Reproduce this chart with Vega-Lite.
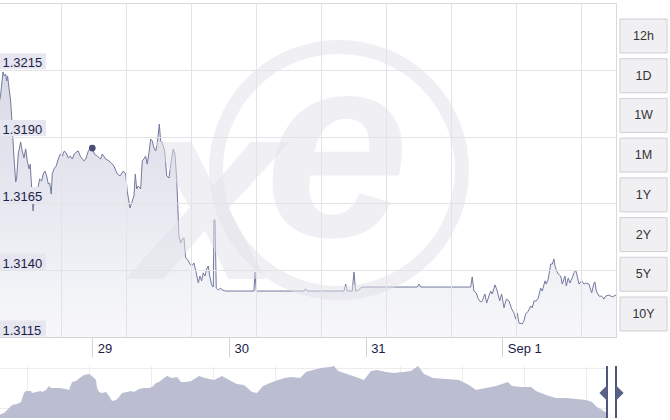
{
 "$schema": "https://vega.github.io/schema/vega-lite/v6.json",
 "padding": {"left": -4, "top": 2, "right": 0, "bottom": 0},
 "background": "white",
 "config": {"font": "Liberation Sans", "view": {"stroke": null}},
 "datasets": {
  "rates": [
   {"time": "2025-08-28T07:37:00", "rate": 1.32022},
   {"time": "2025-08-28T07:55:00", "rate": 1.32059},
   {"time": "2025-08-28T08:19:00", "rate": 1.32142},
   {"time": "2025-08-28T08:32:00", "rate": 1.32127},
   {"time": "2025-08-28T08:47:00", "rate": 1.32134},
   {"time": "2025-08-28T08:58:00", "rate": 1.32108},
   {"time": "2025-08-28T09:08:00", "rate": 1.32127},
   {"time": "2025-08-28T09:22:00", "rate": 1.32082},
   {"time": "2025-08-28T09:40:00", "rate": 1.32033},
   {"time": "2025-08-28T09:57:00", "rate": 1.31932},
   {"time": "2025-08-28T10:15:00", "rate": 1.3182},
   {"time": "2025-08-28T10:33:00", "rate": 1.3173},
   {"time": "2025-08-28T10:43:00", "rate": 1.31745},
   {"time": "2025-08-28T11:00:00", "rate": 1.31835},
   {"time": "2025-08-28T11:25:00", "rate": 1.3188},
   {"time": "2025-08-28T11:42:00", "rate": 1.31846},
   {"time": "2025-08-28T12:00:00", "rate": 1.3182},
   {"time": "2025-08-28T12:18:00", "rate": 1.31854},
   {"time": "2025-08-28T12:35:00", "rate": 1.31809},
   {"time": "2025-08-28T12:53:00", "rate": 1.31779},
   {"time": "2025-08-28T13:06:00", "rate": 1.31797},
   {"time": "2025-08-28T13:21:00", "rate": 1.31708},
   {"time": "2025-08-28T13:35:00", "rate": 1.31622},
   {"time": "2025-08-28T13:49:00", "rate": 1.31659},
   {"time": "2025-08-28T14:03:00", "rate": 1.31685},
   {"time": "2025-08-28T14:20:00", "rate": 1.31659},
   {"time": "2025-08-28T14:31:00", "rate": 1.31715},
   {"time": "2025-08-28T14:45:00", "rate": 1.31741},
   {"time": "2025-08-28T15:07:00", "rate": 1.31734},
   {"time": "2025-08-28T15:23:00", "rate": 1.3176},
   {"time": "2025-08-28T15:41:00", "rate": 1.31771},
   {"time": "2025-08-28T15:59:00", "rate": 1.31753},
   {"time": "2025-08-28T16:16:00", "rate": 1.31723},
   {"time": "2025-08-28T16:31:00", "rate": 1.31726},
   {"time": "2025-08-28T16:48:00", "rate": 1.31685},
   {"time": "2025-08-28T16:58:00", "rate": 1.3176},
   {"time": "2025-08-28T17:16:00", "rate": 1.31779},
   {"time": "2025-08-28T17:40:00", "rate": 1.3179},
   {"time": "2025-08-28T18:01:00", "rate": 1.31816},
   {"time": "2025-08-28T18:23:00", "rate": 1.31835},
   {"time": "2025-08-28T18:44:00", "rate": 1.31827},
   {"time": "2025-08-28T19:05:00", "rate": 1.31846},
   {"time": "2025-08-28T19:26:00", "rate": 1.31839},
   {"time": "2025-08-28T19:47:00", "rate": 1.3182},
   {"time": "2025-08-28T20:08:00", "rate": 1.31827},
   {"time": "2025-08-28T20:29:00", "rate": 1.31816},
   {"time": "2025-08-28T20:50:00", "rate": 1.31835},
   {"time": "2025-08-28T21:11:00", "rate": 1.31842},
   {"time": "2025-08-28T21:32:00", "rate": 1.31846},
   {"time": "2025-08-28T21:53:00", "rate": 1.31827},
   {"time": "2025-08-28T22:14:00", "rate": 1.31816},
   {"time": "2025-08-28T22:35:00", "rate": 1.31809},
   {"time": "2025-08-28T22:56:00", "rate": 1.3182},
   {"time": "2025-08-28T23:18:00", "rate": 1.31846},
   {"time": "2025-08-28T23:39:00", "rate": 1.31857},
   {"time": "2025-08-29T00:00:00", "rate": 1.31857},
   {"time": "2025-08-29T00:21:00", "rate": 1.31835},
   {"time": "2025-08-29T00:52:00", "rate": 1.31827},
   {"time": "2025-08-29T01:28:00", "rate": 1.31816},
   {"time": "2025-08-29T01:45:00", "rate": 1.31835},
   {"time": "2025-08-29T02:21:00", "rate": 1.31816},
   {"time": "2025-08-29T02:56:00", "rate": 1.31809},
   {"time": "2025-08-29T03:20:00", "rate": 1.31801},
   {"time": "2025-08-29T03:48:00", "rate": 1.3179},
   {"time": "2025-08-29T04:23:00", "rate": 1.3176},
   {"time": "2025-08-29T04:52:00", "rate": 1.31753},
   {"time": "2025-08-29T05:26:00", "rate": 1.31771},
   {"time": "2025-08-29T05:52:00", "rate": 1.3176},
   {"time": "2025-08-29T06:08:00", "rate": 1.31696},
   {"time": "2025-08-29T06:37:00", "rate": 1.31633},
   {"time": "2025-08-29T07:01:00", "rate": 1.31659},
   {"time": "2025-08-29T07:19:00", "rate": 1.31678},
   {"time": "2025-08-29T07:33:00", "rate": 1.3176},
   {"time": "2025-08-29T07:48:00", "rate": 1.31704},
   {"time": "2025-08-29T08:04:00", "rate": 1.31715},
   {"time": "2025-08-29T08:30:00", "rate": 1.31704},
   {"time": "2025-08-29T08:46:00", "rate": 1.31809},
   {"time": "2025-08-29T09:04:00", "rate": 1.31816},
   {"time": "2025-08-29T09:22:00", "rate": 1.31827},
   {"time": "2025-08-29T09:39:00", "rate": 1.31797},
   {"time": "2025-08-29T09:57:00", "rate": 1.31839},
   {"time": "2025-08-29T10:15:00", "rate": 1.31891},
   {"time": "2025-08-29T10:32:00", "rate": 1.31884},
   {"time": "2025-08-29T10:50:00", "rate": 1.31857},
   {"time": "2025-08-29T11:08:00", "rate": 1.31846},
   {"time": "2025-08-29T11:25:00", "rate": 1.31876},
   {"time": "2025-08-29T11:46:00", "rate": 1.31947},
   {"time": "2025-08-29T12:00:00", "rate": 1.31884},
   {"time": "2025-08-29T12:17:00", "rate": 1.31876},
   {"time": "2025-08-29T12:43:00", "rate": 1.31846},
   {"time": "2025-08-29T13:04:00", "rate": 1.31753},
   {"time": "2025-08-29T13:28:00", "rate": 1.31745},
   {"time": "2025-08-29T13:52:00", "rate": 1.31809},
   {"time": "2025-08-29T14:13:00", "rate": 1.31854},
   {"time": "2025-08-29T14:31:00", "rate": 1.31835},
   {"time": "2025-08-29T14:49:00", "rate": 1.31745},
   {"time": "2025-08-29T15:13:00", "rate": 1.31528},
   {"time": "2025-08-29T15:31:00", "rate": 1.31502},
   {"time": "2025-08-29T15:48:00", "rate": 1.31517},
   {"time": "2025-08-29T16:06:00", "rate": 1.31521},
   {"time": "2025-08-29T16:24:00", "rate": 1.31446},
   {"time": "2025-08-29T16:48:00", "rate": 1.31438},
   {"time": "2025-08-29T17:09:00", "rate": 1.31423},
   {"time": "2025-08-29T17:27:00", "rate": 1.31416},
   {"time": "2025-08-29T17:51:00", "rate": 1.31427},
   {"time": "2025-08-29T18:15:00", "rate": 1.3139},
   {"time": "2025-08-29T18:37:00", "rate": 1.31352},
   {"time": "2025-08-29T18:54:00", "rate": 1.31378},
   {"time": "2025-08-29T19:12:00", "rate": 1.3136},
   {"time": "2025-08-29T19:29:00", "rate": 1.3139},
   {"time": "2025-08-29T19:47:00", "rate": 1.31378},
   {"time": "2025-08-29T20:05:00", "rate": 1.31404},
   {"time": "2025-08-29T20:22:00", "rate": 1.31416},
   {"time": "2025-08-29T20:37:00", "rate": 1.31378},
   {"time": "2025-08-29T20:58:00", "rate": 1.31345},
   {"time": "2025-08-29T21:15:00", "rate": 1.31337},
   {"time": "2025-08-29T21:22:00", "rate": 1.31588},
   {"time": "2025-08-29T21:33:00", "rate": 1.31588},
   {"time": "2025-08-29T21:46:00", "rate": 1.31333},
   {"time": "2025-08-29T22:07:00", "rate": 1.31326},
   {"time": "2025-08-29T22:33:00", "rate": 1.31333},
   {"time": "2025-08-29T22:49:00", "rate": 1.31326},
   {"time": "2025-08-29T23:25:00", "rate": 1.31322},
   {"time": "2025-08-30T04:23:00", "rate": 1.31322},
   {"time": "2025-08-30T04:34:00", "rate": 1.31393},
   {"time": "2025-08-30T04:48:00", "rate": 1.31322},
   {"time": "2025-08-30T13:10:00", "rate": 1.31322},
   {"time": "2025-08-30T13:28:00", "rate": 1.3133},
   {"time": "2025-08-30T13:45:00", "rate": 1.31322},
   {"time": "2025-08-30T20:12:00", "rate": 1.31322},
   {"time": "2025-08-30T20:30:00", "rate": 1.31348},
   {"time": "2025-08-30T20:46:00", "rate": 1.31322},
   {"time": "2025-08-30T21:39:00", "rate": 1.31322},
   {"time": "2025-08-30T21:57:00", "rate": 1.31393},
   {"time": "2025-08-30T22:15:00", "rate": 1.31322},
   {"time": "2025-08-30T22:42:00", "rate": 1.31326},
   {"time": "2025-08-30T23:08:00", "rate": 1.31333},
   {"time": "2025-08-30T23:24:00", "rate": 1.31337},
   {"time": "2025-08-31T09:04:00", "rate": 1.31337},
   {"time": "2025-08-31T09:22:00", "rate": 1.31348},
   {"time": "2025-08-31T09:40:00", "rate": 1.31337},
   {"time": "2025-08-31T18:27:00", "rate": 1.31337},
   {"time": "2025-08-31T18:43:00", "rate": 1.31375},
   {"time": "2025-08-31T19:01:00", "rate": 1.31322},
   {"time": "2025-08-31T19:26:00", "rate": 1.31315},
   {"time": "2025-08-31T19:47:00", "rate": 1.31292},
   {"time": "2025-08-31T20:12:00", "rate": 1.31281},
   {"time": "2025-08-31T20:29:00", "rate": 1.31285},
   {"time": "2025-08-31T20:57:00", "rate": 1.31311},
   {"time": "2025-08-31T21:15:00", "rate": 1.31277},
   {"time": "2025-08-31T21:29:00", "rate": 1.31292},
   {"time": "2025-08-31T21:57:00", "rate": 1.31322},
   {"time": "2025-08-31T22:14:00", "rate": 1.31311},
   {"time": "2025-08-31T22:43:00", "rate": 1.31345},
   {"time": "2025-08-31T23:07:00", "rate": 1.31322},
   {"time": "2025-08-31T23:32:00", "rate": 1.31285},
   {"time": "2025-08-31T23:53:00", "rate": 1.31311},
   {"time": "2025-09-01T00:18:00", "rate": 1.31259},
   {"time": "2025-09-01T00:42:00", "rate": 1.31292},
   {"time": "2025-09-01T01:10:00", "rate": 1.31285},
   {"time": "2025-09-01T01:39:00", "rate": 1.31255},
   {"time": "2025-09-01T02:03:00", "rate": 1.3124},
   {"time": "2025-09-01T02:21:00", "rate": 1.31217},
   {"time": "2025-09-01T02:38:00", "rate": 1.3124},
   {"time": "2025-09-01T02:56:00", "rate": 1.31202},
   {"time": "2025-09-01T03:30:00", "rate": 1.31199},
   {"time": "2025-09-01T03:48:00", "rate": 1.3121},
   {"time": "2025-09-01T04:06:00", "rate": 1.31236},
   {"time": "2025-09-01T04:34:00", "rate": 1.31247},
   {"time": "2025-09-01T04:59:00", "rate": 1.31266},
   {"time": "2025-09-01T05:16:00", "rate": 1.31259},
   {"time": "2025-09-01T05:34:00", "rate": 1.31285},
   {"time": "2025-09-01T05:58:00", "rate": 1.31285},
   {"time": "2025-09-01T06:19:00", "rate": 1.31296},
   {"time": "2025-09-01T06:44:00", "rate": 1.31333},
   {"time": "2025-09-01T07:01:00", "rate": 1.31322},
   {"time": "2025-09-01T07:30:00", "rate": 1.3136},
   {"time": "2025-09-01T07:43:00", "rate": 1.31348},
   {"time": "2025-09-01T08:04:00", "rate": 1.31367},
   {"time": "2025-09-01T08:30:00", "rate": 1.31423},
   {"time": "2025-09-01T08:47:00", "rate": 1.31423},
   {"time": "2025-09-01T09:04:00", "rate": 1.31442},
   {"time": "2025-09-01T09:15:00", "rate": 1.31416},
   {"time": "2025-09-01T09:33:00", "rate": 1.31397},
   {"time": "2025-09-01T09:50:00", "rate": 1.31386},
   {"time": "2025-09-01T10:15:00", "rate": 1.31378},
   {"time": "2025-09-01T10:32:00", "rate": 1.31348},
   {"time": "2025-09-01T11:00:00", "rate": 1.31378},
   {"time": "2025-09-01T11:14:00", "rate": 1.31341},
   {"time": "2025-09-01T11:35:00", "rate": 1.31371},
   {"time": "2025-09-01T11:53:00", "rate": 1.31352},
   {"time": "2025-09-01T12:17:00", "rate": 1.31371},
   {"time": "2025-09-01T12:35:00", "rate": 1.3139},
   {"time": "2025-09-01T12:53:00", "rate": 1.31401},
   {"time": "2025-09-01T13:14:00", "rate": 1.31371},
   {"time": "2025-09-01T13:28:00", "rate": 1.31348},
   {"time": "2025-09-01T13:56:00", "rate": 1.3136},
   {"time": "2025-09-01T14:21:00", "rate": 1.31348},
   {"time": "2025-09-01T14:38:00", "rate": 1.31352},
   {"time": "2025-09-01T15:13:00", "rate": 1.31348},
   {"time": "2025-09-01T15:42:00", "rate": 1.31315},
   {"time": "2025-09-01T16:06:00", "rate": 1.31352},
   {"time": "2025-09-01T16:16:00", "rate": 1.31356},
   {"time": "2025-09-01T16:30:00", "rate": 1.31322},
   {"time": "2025-09-01T16:59:00", "rate": 1.31303},
   {"time": "2025-09-01T17:27:00", "rate": 1.31303},
   {"time": "2025-09-01T17:51:00", "rate": 1.31292},
   {"time": "2025-09-01T18:09:00", "rate": 1.31303},
   {"time": "2025-09-01T18:44:00", "rate": 1.31307},
   {"time": "2025-09-01T19:19:00", "rate": 1.313},
   {"time": "2025-09-01T19:58:00", "rate": 1.31307}
  ],
  "navigator": [
   {"day": 0, "rate": 1.256}, {"day": 2.5, "rate": 1.26}, {"day": 5, "rate": 1.27}, {"day": 6.5, "rate": 1.276},
   {"day": 9, "rate": 1.278}, {"day": 11, "rate": 1.282}, {"day": 12.5, "rate": 1.3}, {"day": 13.5, "rate": 1.304},
   {"day": 16, "rate": 1.304}, {"day": 16.5, "rate": 1.3}, {"day": 18.5, "rate": 1.302}, {"day": 21, "rate": 1.304},
   {"day": 21.5, "rate": 1.302}, {"day": 23.5, "rate": 1.306}, {"day": 25, "rate": 1.314}, {"day": 26, "rate": 1.31},
   {"day": 28.5, "rate": 1.31}, {"day": 30, "rate": 1.31}, {"day": 33.5, "rate": 1.308}, {"day": 35, "rate": 1.306},
   {"day": 36.5, "rate": 1.322}, {"day": 38.5, "rate": 1.324}, {"day": 41, "rate": 1.332}, {"day": 42.5, "rate": 1.336},
   {"day": 45, "rate": 1.338}, {"day": 46.5, "rate": 1.334}, {"day": 48.5, "rate": 1.326}, {"day": 49, "rate": 1.31},
   {"day": 50, "rate": 1.302}, {"day": 51.5, "rate": 1.3}, {"day": 53.5, "rate": 1.302}, {"day": 55, "rate": 1.294},
   {"day": 56.5, "rate": 1.284}, {"day": 58.5, "rate": 1.286}, {"day": 60, "rate": 1.292}, {"day": 61.5, "rate": 1.3},
   {"day": 64, "rate": 1.302}, {"day": 66, "rate": 1.304}, {"day": 67.5, "rate": 1.302}, {"day": 70, "rate": 1.308},
   {"day": 72.5, "rate": 1.31}, {"day": 75, "rate": 1.31}, {"day": 76.5, "rate": 1.312}, {"day": 78.5, "rate": 1.32},
   {"day": 80, "rate": 1.322}, {"day": 82.5, "rate": 1.33}, {"day": 84, "rate": 1.334}, {"day": 86.5, "rate": 1.33},
   {"day": 89, "rate": 1.332}, {"day": 91, "rate": 1.322}, {"day": 93.5, "rate": 1.322}, {"day": 96, "rate": 1.324},
   {"day": 98.5, "rate": 1.33}, {"day": 100, "rate": 1.334}, {"day": 103, "rate": 1.33}, {"day": 107.5, "rate": 1.326},
   {"day": 111.5, "rate": 1.334}, {"day": 116, "rate": 1.324}, {"day": 119, "rate": 1.318}, {"day": 122.5, "rate": 1.316},
   {"day": 126.5, "rate": 1.302}, {"day": 129, "rate": 1.3}, {"day": 132, "rate": 1.314}, {"day": 135.5, "rate": 1.32},
   {"day": 139.5, "rate": 1.326}, {"day": 143, "rate": 1.33}, {"day": 146, "rate": 1.332}, {"day": 150.5, "rate": 1.33},
   {"day": 153.5, "rate": 1.342}, {"day": 157, "rate": 1.346}, {"day": 161, "rate": 1.35}, {"day": 165.5, "rate": 1.352},
   {"day": 167.5, "rate": 1.354}, {"day": 169.5, "rate": 1.344}, {"day": 174, "rate": 1.338}, {"day": 178.5, "rate": 1.332},
   {"day": 182.5, "rate": 1.326}, {"day": 186, "rate": 1.344}, {"day": 189, "rate": 1.346}, {"day": 193.5, "rate": 1.342},
   {"day": 197.5, "rate": 1.34}, {"day": 202, "rate": 1.342}, {"day": 206, "rate": 1.344}, {"day": 209.5, "rate": 1.354},
   {"day": 212.5, "rate": 1.338}, {"day": 217, "rate": 1.33}, {"day": 223.5, "rate": 1.328}, {"day": 230, "rate": 1.326},
   {"day": 235, "rate": 1.316}, {"day": 238.5, "rate": 1.306}, {"day": 243.5, "rate": 1.31}, {"day": 248.5, "rate": 1.314},
   {"day": 251.5, "rate": 1.318}, {"day": 254.5, "rate": 1.322}, {"day": 256.5, "rate": 1.314}, {"day": 261, "rate": 1.312},
   {"day": 266, "rate": 1.312}, {"day": 268.5, "rate": 1.304}, {"day": 273.5, "rate": 1.296}, {"day": 278.5, "rate": 1.29},
   {"day": 283.5, "rate": 1.29}, {"day": 288.5, "rate": 1.288}, {"day": 293.5, "rate": 1.286}, {"day": 296.5, "rate": 1.282},
   {"day": 299, "rate": 1.272}, {"day": 301.5, "rate": 1.266}, {"day": 304, "rate": 1.26}, {"day": 308.5, "rate": 1.254}
  ],
  "buttons": [
   {"label": "12h"}, {"label": "1D"}, {"label": "1W"}, {"label": "1M"},
   {"label": "1Y"}, {"label": "2Y"}, {"label": "5Y"}, {"label": "10Y"}
  ],
  "ylabels": [
   {"rate": 1.3115}, {"rate": 1.314}, {"rate": 1.3165}, {"rate": 1.319}, {"rate": 1.3215}
  ],
  "marker": [
   {"time": "2025-08-29T00:00:00", "rate": 1.31857}
  ]
 },
 "spacing": 7,
 "vconcat": [
  {
   "spacing": 0,
   "hconcat": [
    {
     "width": 617,
     "height": 334,
     "view": {"stroke": "#d9d9dd"},
     "layer": [
      {
       "data": {"name": "rates"},
       "mark": {
        "type": "area",
        "interpolate": "linear",
        "fill": {"gradient": "linear", "x1": 0, "y1": 0, "x2": 0, "y2": 1,
                 "stops": [{"offset": 0, "color": "#c9cbdc"}, {"offset": 0.33, "color": "#d6d8e5"}, {"offset": 0.82, "color": "#eceef4"}, {"offset": 1, "color": "#f4f4f8"}]},
        "line": {"color": "#737a9e", "strokeWidth": 1}
       },
       "encoding": {
        "x": {
         "field": "time", "type": "temporal",
         "scale": {"domain": [{"year": 2025, "month": 8, "date": 28, "hours": 7, "minutes": 37}, {"year": 2025, "month": 9, "date": 1, "hours": 19, "minutes": 58}], "nice": false},
         "axis": {
          "orient": "bottom", "title": null, "grid": false,
          "values": [{"year": 2025, "month": 8, "date": 29}, {"year": 2025, "month": 8, "date": 30}, {"year": 2025, "month": 8, "date": 31}, {"year": 2025, "month": 9, "date": 1}],
          "labelExpr": "date(datum.value) == 1 ? timeFormat(datum.value, '%b %-d') : timeFormat(datum.value, '%-d')",
          "ticks": true, "tickSize": 20, "tickColor": "#d4d4d8", "domainColor": "#d4d4d8",
          "labelAlign": "left", "labelBaseline": "alphabetic", "labelPadding": -5, "labelOffset": 5,
          "labelFontSize": 13, "labelColor": "#1c2147", "labelFlush": false, "labelOverlap": false, "zindex": 1
         }
        },
        "y": {
         "field": "rate", "type": "quantitative",
         "scale": {"domain": [1.3115, 1.324], "zero": false, "nice": false},
         "axis": {
          "title": null, "values": [1.3115, 1.314, 1.3165, 1.319, 1.3215], "format": ".4f",
          "grid": true, "gridColor": "#e2e2e7", "ticks": false, "tickSize": 0, "domain": false,
          "labelAlign": "left", "labelPadding": -3, "labelBaseline": "alphabetic", "labelOffset": -3,
          "labelFontSize": 13, "labelColor": "#1c2147", "zindex": 1
         }
        },
        "y2": {"datum": 1.3115}
       }
      },
      {
       "data": {"values": [{}]},
       "mark": {"type": "point", "shape": "circle", "filled": false, "size": 60516, "strokeWidth": 14, "color": "#e2e2ea", "opacity": 0.5},
       "encoding": {
        "x": {"datum": {"year": 2025, "month": 8, "date": 30, "hours": 19, "minutes": 19}, "type": "temporal", "axis": null},
        "y": {"datum": 1.31775, "type": "quantitative"}
       }
      },
      {
       "data": {"values": [{}]},
       "mark": {"type": "text", "text": "e", "font": "Liberation Sans", "fontSize": 260, "fontStyle": "italic", "fontWeight": "bold", "align": "center", "baseline": "alphabetic", "color": "#e2e2ea", "opacity": 0.5},
       "encoding": {
        "x": {"datum": {"year": 2025, "month": 8, "date": 30, "hours": 18, "minutes": 58}, "type": "temporal", "axis": null},
        "y": {"datum": 1.31528, "type": "quantitative"}
       }
      },
      {
       "data": {"values": [{}]},
       "mark": {"type": "text", "text": "x", "font": "Liberation Sans", "fontSize": 260, "fontStyle": "italic", "fontWeight": "bold", "align": "center", "baseline": "bottom", "color": "#e2e2ea", "opacity": 0.5},
       "encoding": {
        "x": {"datum": {"year": 2025, "month": 8, "date": 29, "hours": 20, "minutes": 29}, "type": "temporal", "axis": null},
        "y": {"datum": 1.31161, "type": "quantitative"}
       }
      },
      {
       "data": {"name": "ylabels"},
       "mark": {"type": "tick", "orient": "horizontal", "size": 47, "thickness": 16, "yOffset": -8.5, "color": "#e5e6f0", "opacity": 1},
       "encoding": {
        "x": {"datum": {"year": 2025, "month": 8, "date": 28, "hours": 11, "minutes": 44}, "type": "temporal", "axis": null},
        "y": {"field": "rate", "type": "quantitative"}
       }
      },
      {
       "data": {"name": "marker"},
       "mark": {"type": "point", "filled": true, "color": "#474f74", "size": 45, "opacity": 1},
       "encoding": {
        "x": {
         "field": "time", "type": "temporal",
         "axis": {
          "orient": "top", "title": null, "grid": true, "gridColor": "#e2e2e7", "labels": false, "ticks": false, "domain": false, "zindex": 1,
          "values": [
           {"year": 2025, "month": 8, "date": 28, "hours": 18, "minutes": 33},
           {"year": 2025, "month": 8, "date": 29, "hours": 5, "minutes": 58},
           {"year": 2025, "month": 8, "date": 29, "hours": 17, "minutes": 23},
           {"year": 2025, "month": 8, "date": 30, "hours": 4, "minutes": 48},
           {"year": 2025, "month": 8, "date": 30, "hours": 16, "minutes": 13},
           {"year": 2025, "month": 8, "date": 31, "hours": 3, "minutes": 38},
           {"year": 2025, "month": 8, "date": 31, "hours": 15, "minutes": 3},
           {"year": 2025, "month": 9, "date": 1, "hours": 2, "minutes": 27},
           {"year": 2025, "month": 9, "date": 1, "hours": 13, "minutes": 52}
          ]
         }
        },
        "y": {"field": "rate", "type": "quantitative"}
       }
      }
     ],
     "resolve": {"axis": {"x": "independent"}}
    },
    {
     "width": 47,
     "height": 344,
     "data": {"name": "buttons"},
     "encoding": {
      "y": {"field": "label", "type": "nominal", "sort": null, "scale": {"paddingInner": 0.144, "paddingOuter": 0.403}, "axis": null}
     },
     "layer": [
      {
       "mark": {"type": "rect", "fill": "#f0f0f3", "stroke": "#cfcfd4", "strokeWidth": 1},
       "encoding": {
        "x": {"datum": 0, "type": "quantitative", "scale": {"domain": [0, 1]}, "axis": null},
        "x2": {"datum": 1}
       }
      },
      {
       "mark": {"type": "text", "fontSize": 12.5, "color": "#333333"},
       "encoding": {
        "x": {"datum": 0.5, "type": "quantitative"},
        "text": {"field": "label"}
       }
      }
     ]
    }
   ]
  },
  {
   "width": 617,
   "height": 52,
   "layer": [
    {
     "data": {"name": "navigator"},
     "mark": {"type": "area", "color": "#babed0", "opacity": 1},
     "encoding": {
      "x": {
       "field": "day", "type": "quantitative",
       "scale": {"domain": [0, 308.5], "nice": false, "zero": false},
       "axis": {"title": null, "grid": true, "gridColor": "#ececef", "labels": false, "ticks": false, "domain": false,
                "values": [14.15, 29.66, 45.17, 60.68, 76.19, 91.7, 107.21, 122.72, 138.23, 153.74, 169.25, 184.76, 200.27, 215.78, 231.29, 246.8, 262.31, 277.82, 293.33]}
      },
      "y": {
       "field": "rate", "type": "quantitative",
       "scale": {"domain": [1.25, 1.354], "zero": false, "nice": false},
       "axis": {"title": null, "grid": true, "gridColor": "#ececef", "labels": false, "ticks": false, "domain": false,
                "values": [1.27, 1.29, 1.31, 1.33, 1.35]}
      },
      "y2": {"datum": 1.25}
     }
    },
    {
     "data": {"values": [{}]},
     "mark": {"type": "rect", "fill": "white", "opacity": 0.9},
     "encoding": {"x": {"datum": 304}, "x2": {"datum": 308.5}}
    },
    {
     "data": {"values": [{}]},
     "mark": {"type": "rule", "color": "#4f5679", "strokeWidth": 2},
     "encoding": {"x": {"datum": 304}}
    },
    {
     "data": {"values": [{}]},
     "mark": {"type": "rule", "color": "#4f5679", "strokeWidth": 2},
     "encoding": {"x": {"datum": 308.5}}
    },
    {
     "data": {"values": [{}]},
     "mark": {"type": "point", "filled": true, "opacity": 1, "color": "#596085", "shape": "M 0.5 -1 L -0.5 0 L 0.5 1 Z", "size": 256},
     "encoding": {"x": {"datum": 302.2}, "y": {"datum": 1.3}}
    },
    {
     "data": {"values": [{}]},
     "mark": {"type": "point", "filled": true, "opacity": 1, "color": "#596085", "shape": "M -0.5 -1 L 0.5 0 L -0.5 1 Z", "size": 256},
     "encoding": {"x": {"datum": 310.3}, "y": {"datum": 1.3}}
    }
   ]
  }
 ]
}
